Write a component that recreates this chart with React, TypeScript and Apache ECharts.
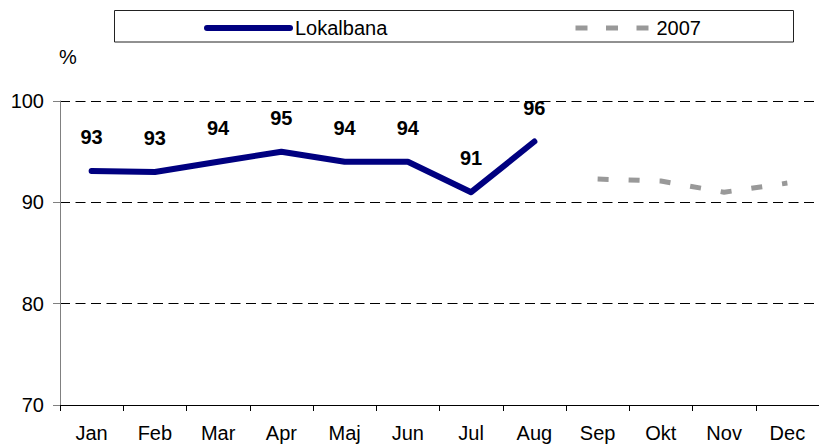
import React, { useEffect, useRef } from "react";
import * as echarts from "echarts";

const months = ["Jan", "Feb", "Mar", "Apr", "Maj", "Jun", "Jul", "Aug", "Sep", "Okt", "Nov", "Dec"];
const lokalbana: (number | string)[] = [93.1, 93.0, 94.0, 95.0, 94.0, 94.0, 91.0, 96.0, "-", "-", "-", "-"];
const y2007: (number | string)[] = ["-", "-", "-", "-", "-", "-", "-", "-", 92.3, 92.1, 91.0, 91.9];
const yTicks = { min: 70, max: 100, interval: 10 };

const FONT = "Liberation Sans, Arial, sans-serif";

export default function App() {
  const ref = useRef<HTMLDivElement>(null);
  useEffect(() => {
    if (!ref.current) return;
    const chart = echarts.init(ref.current, undefined, { renderer: "svg" });
    chart.setOption({
      animation: false,
      backgroundColor: "#ffffff",
      textStyle: { fontFamily: FONT },
      grid: { left: 60, top: 101, width: 768, height: 304, containLabel: false },
      legend: [
        {
          left: 204,
          top: 18,
          padding: 0,
          itemWidth: 83,
          itemHeight: 14,
          data: [{ name: "Lokalbana", lineStyle: { width: 6, cap: "round" } }],
          itemStyle: { opacity: 0 },
          textStyle: { fontSize: 20, color: "#000", fontFamily: FONT },
          selectedMode: false,
        },
        {
          left: 573,
          top: 18,
          padding: 0,
          itemWidth: 76,
          itemHeight: 14,
          data: [{ name: "2007", lineStyle: { width: 5, type: [12, 18.5], cap: "butt" } }],
          itemStyle: { opacity: 0 },
          textStyle: { fontSize: 20, color: "#000", fontFamily: FONT },
          selectedMode: false,
        },
      ],
      graphic: [
        {
          type: "rect",
          shape: { x: 114.5, y: 10.5, width: 679, height: 31.5 },
          style: { fill: "none", stroke: "#222", lineWidth: 1 },
          z: 0,
        },
        {
          type: "text",
          x: 59,
          y: 57,
          style: { text: "%", fontSize: 20, fontFamily: FONT, fill: "#000", verticalAlign: "middle" },
        },
      ],
      xAxis: {
        type: "category",
        data: months,
        boundaryGap: true,
        axisLine: { lineStyle: { color: "#000", width: 1 } },
        axisTick: { show: true, length: 6, alignWithLabel: false, lineStyle: { color: "#000" } },
        axisLabel: { fontSize: 20, color: "#000", margin: 18, fontFamily: FONT, interval: 0 },
        splitLine: { show: false },
      },
      yAxis: {
        type: "value",
        min: yTicks.min,
        max: yTicks.max,
        interval: yTicks.interval,
        axisLine: { show: true, lineStyle: { color: "#808080", width: 1 } },
        axisTick: { show: true, length: 7, lineStyle: { color: "#808080" } },
        axisLabel: { fontSize: 20, color: "#000", margin: 16, fontFamily: FONT },
        splitLine: { show: true, lineStyle: { color: "#000", width: 1, type: [10, 5.5] } },
      },
      series: [
        {
          name: "Lokalbana",
          type: "line",
          data: lokalbana,
          symbol: "circle",
          symbolSize: 0.01,
          showSymbol: true,
          lineStyle: { color: "#000080", width: 6, cap: "round", join: "round" },
          itemStyle: { color: "#000080" },
          label: {
            show: true,
            position: "top",
            distance: 24,
            fontSize: 20,
            fontWeight: "bold",
            color: "#000",
            fontFamily: FONT,
            formatter: (p: any) => Math.round(p.value).toString(),
          },
          z: 3,
        },
        {
          name: "2007",
          type: "line",
          data: y2007,
          symbol: "none",
          showSymbol: false,
          lineStyle: { color: "#999999", width: 5, type: [11, 20], cap: "butt" },
          itemStyle: { color: "#999999" },
          z: 2,
        },
      ],
    });
    return () => chart.dispose();
  }, []);
  return (
    <div
      ref={ref}
      style={{ position: "fixed", left: 0, top: 0, width: 819, height: 447, background: "#fff" }}
    />
  );
}
